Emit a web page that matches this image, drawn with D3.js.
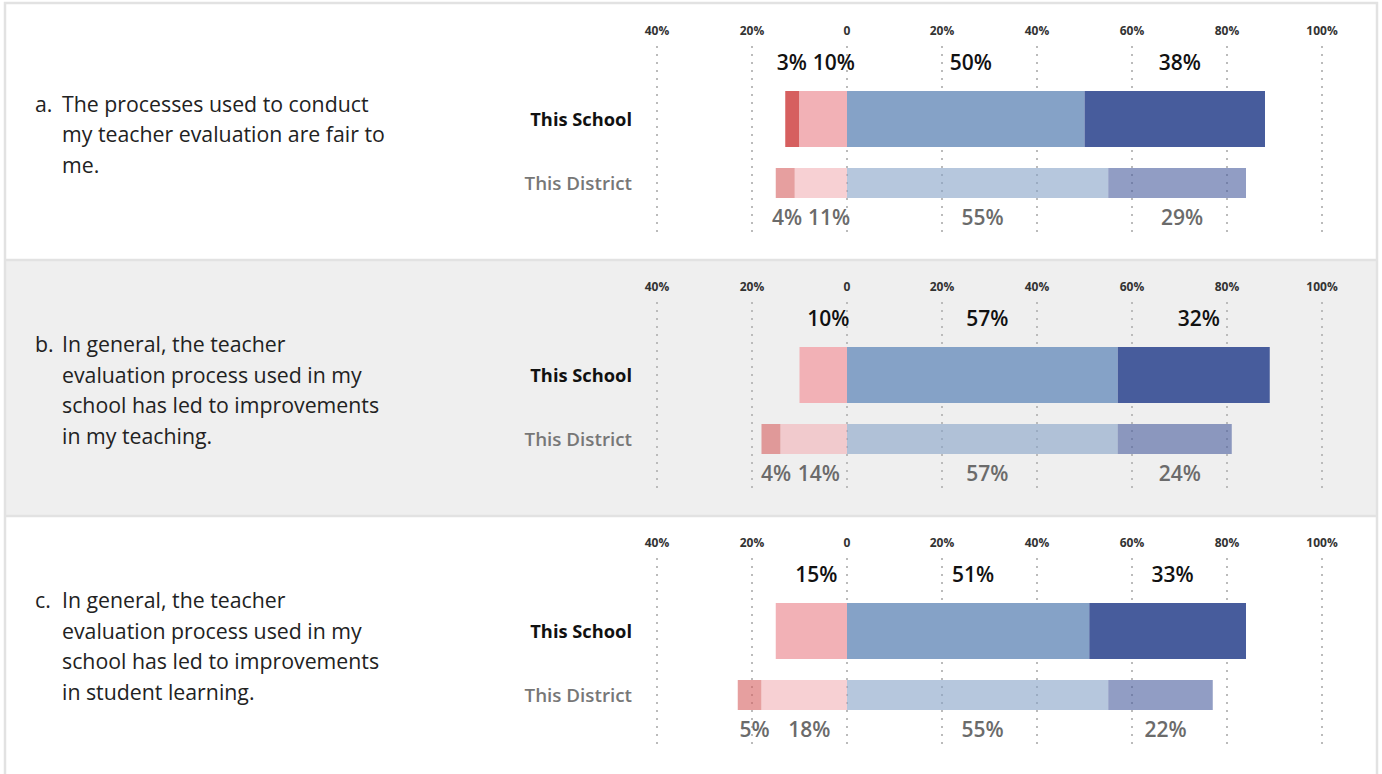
<!DOCTYPE html>
<html>
<head>
  <meta charset="utf-8">
  <title>Teacher evaluation survey</title>
  <script src="https://d3js.org/d3.v7.min.js"></script>
  <style>
    body {
      margin: 0;
      background: #fff;
      font-family: "Open Sans", "Noto Sans", sans-serif;
    }
  </style>
</head>
<body>
  <svg id="chart" width="1382" height="774"></svg>
  <script>
    /* Survey data */
    var letters = ["a.", "b.", "c."];
    var questions = [
      ["The processes used to conduct", "my teacher evaluation are fair to", "me."],
      ["In general, the teacher", "evaluation process used in my", "school has led to improvements", "in my teaching."],
      ["In general, the teacher", "evaluation process used in my", "school has led to improvements", "in student learning."]
    ];
    var groups = ["This School", "This District"];
    // strongly disagree, disagree, agree, strongly agree (%)
    var schoolValues = [[3, 10, 50, 38], [0, 10, 57, 32], [0, 15, 51, 33]];
    var districtValues = [[4, 11, 55, 29], [4, 14, 57, 24], [5, 18, 55, 22]];
    var tickValues = [-40, -20, 0, 20, 40, 60, 80, 100];
    var tickLabels = ["40%", "20%", "0", "20%", "40%", "60%", "80%", "100%"];

    var colors = ["#d65f5f", "#f2b1b6", "#85a2c7", "#475c9c"];

    var svg = d3.select("#chart");
    var panelH = 256, panelTop = 4;

    var x = d3.scaleLinear()
              .domain([-40, 100])
              .range([657, 1322]);

    /* Turn a row of percentages into stacked segments around 0 */
    function segments(vals) {
      var neg = -(vals[0] + vals[1]);
      return [
        {i: 0, x0: neg, x1: neg + vals[0], v: vals[0]},
        {i: 1, x0: -vals[1], x1: 0, v: vals[1]},
        {i: 2, x0: 0, x1: vals[2], v: vals[2]},
        {i: 3, x0: vals[2], x1: vals[2] + vals[3], v: vals[3]}
      ];
    }

    /* Place value labels near segment centres, then spread overlapping ones */
    function drawLabels(g, segs, y, cls, fill) {
      var labels = g.selectAll("text." + cls)
        .data(segs.filter(function(s) { return s.v > 0; }))
        .enter().append("text")
        .attr("class", cls)
        .attr("y", y)
        .attr("text-anchor", "middle")
        .style("font-size", "21px").style("font-weight", 600).style("fill", fill)
        .text(function(s) { return s.v + "%"; });

      var items = [];
      labels.each(function(s) {
        items.push({
          node: this,
          cx: (x(s.x0) + x(s.x1)) / 2 + 5,
          w: this.getComputedTextLength()
        });
      });
      var gap = 6;
      for (var k = 0; k < 10; k++) {
        for (var j = 1; j < items.length; j++) {
          var a = items[j - 1], b = items[j];
          var overlap = (a.cx + a.w / 2 + gap) - (b.cx - b.w / 2);
          if (overlap > 0) {
            a.cx -= overlap / 2;
            b.cx += overlap / 2;
          }
        }
      }
      items.forEach(function(it) {
        d3.select(it.node).attr("x", it.cx);
      });
    }

    questions.forEach(function(lines, q) {
      var top = panelTop + q * panelH;
      var g = svg.append("g").attr("transform", "translate(0," + top + ")");

      g.append("rect")
       .attr("x", 6).attr("y", 0)
       .attr("width", 1371).attr("height", panelH)
       .attr("fill", q === 1 ? "#efefef" : "#fff");

      /* question text */
      var midY = 131, lh = 30.5;
      var firstY = midY - (lines.length - 1) * lh / 2 + 7;
      g.append("text")
       .attr("x", 35).attr("y", firstY)
       .style("font-size", "21.3px").style("fill", "#222")
       .text(letters[q]);
      g.selectAll("text.q")
       .data(lines)
       .enter().append("text")
       .attr("class", "q")
       .attr("x", 62)
       .attr("y", function(d, i) { return firstY + i * lh; })
       .style("font-size", "21.3px").style("fill", "#222")
       .text(function(d) { return d; });

      /* tick labels */
      g.selectAll("text.tick")
       .data(tickValues)
       .enter().append("text")
       .attr("class", "tick")
       .attr("x", function(d) { return x(d); })
       .attr("y", 31)
       .attr("text-anchor", "middle")
       .style("font-size", "12px").style("font-weight", 700).style("fill", "#333")
       .text(function(d, i) { return tickLabels[i]; });

      /* dotted gridlines */
      g.selectAll("line.grid")
       .data(tickValues)
       .enter().append("line")
       .attr("class", "grid")
       .attr("x1", function(d) { return x(d); })
       .attr("x2", function(d) { return x(d); })
       .attr("y1", 42).attr("y2", 234)
       .attr("stroke", "#bbbbbb")
       .attr("stroke-width", 2)
       .attr("stroke-dasharray", "2,6");

      /* row labels */
      g.append("text")
       .attr("x", 632).attr("y", 122)
       .attr("text-anchor", "end")
       .style("font-size", "18.3px").style("font-weight", 700).style("fill", "#111")
       .text(groups[0]);
      g.append("text")
       .attr("x", 632).attr("y", 186)
       .attr("text-anchor", "end")
       .style("font-size", "18.8px").style("font-weight", 600).style("fill", "#777")
       .text(groups[1]);

      /* school bar (opaque) */
      var sSegs = segments(schoolValues[q]);
      g.selectAll("rect.school")
       .data(sSegs.filter(function(s) { return s.v > 0; }))
       .enter().append("rect")
       .attr("class", "school")
       .attr("x", function(s) { return x(s.x0); })
       .attr("width", function(s) { return x(s.x1) - x(s.x0); })
       .attr("y", 87).attr("height", 56)
       .attr("fill", function(s) { return colors[s.i]; });

      /* district bar (translucent) */
      var dSegs = segments(districtValues[q]);
      g.selectAll("rect.district")
       .data(dSegs.filter(function(s) { return s.v > 0; }))
       .enter().append("rect")
       .attr("class", "district")
       .attr("x", function(s) { return x(s.x0); })
       .attr("width", function(s) { return x(s.x1) - x(s.x0); })
       .attr("y", 164).attr("height", 30)
       .attr("fill", function(s) { return colors[s.i]; })
       .attr("fill-opacity", 0.6);

      /* value labels */
      drawLabels(g, sSegs, 66, "sv", "#111");
      drawLabels(g, dSegs, 221, "dv", "#6b6b6b");
    });

    /* borders: outer frame and panel separators */
    svg.append("rect")
       .attr("x", 5).attr("y", 3)
       .attr("width", 1372).attr("height", 790)
       .attr("fill", "none")
       .attr("stroke", "#e2e2e2")
       .attr("stroke-width", 2.5);
    svg.selectAll("line.sep")
       .data([1, 2])
       .enter().append("line")
       .attr("x1", 5).attr("x2", 1377)
       .attr("y1", function(d) { return panelTop + d * panelH; })
       .attr("y2", function(d) { return panelTop + d * panelH; })
       .attr("stroke", "#e2e2e2")
       .attr("stroke-width", 2.5);
  </script>
</body>
</html>
